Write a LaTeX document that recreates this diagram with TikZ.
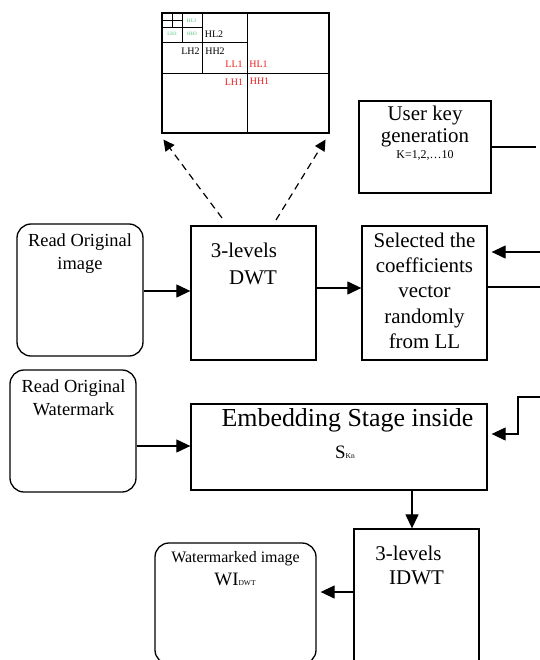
\documentclass[tikz,border=0pt]{standalone}
\usepackage{fontspec}
\setmainfont{Liberation Serif}
\usetikzlibrary{arrows.meta,calc}

\definecolor{lvlthree}{RGB}{70,190,120}
\definecolor{lvlone}{RGB}{235,30,30}

\begin{document}
\begin{tikzpicture}[x=1bp,y=-1bp,
  box/.style={draw, line width=1.3bp, inner sep=0pt},
  rbox/.style={box, rounded corners=14bp},
  conn/.style={line width=1.2bp},
  arr/.style={conn, -{Triangle[length=14bp,width=13bp]}},
  darr/.style={line width=1.2bp, dash pattern=on 7bp off 5bp, -{Triangle[length=11bp,width=11bp]}},
  txt/.style={anchor=base, inner sep=0pt},
  big/.style={txt, font=\fontsize{21}{25}\selectfont},
  sub/.style={line width=1bp},
  band/.style={anchor=base, inner sep=0pt, font=\fontsize{10}{12}\selectfont},
  tiny/.style={anchor=center, inner sep=0pt, text=lvlthree, font=\fontsize{5}{6}\selectfont}
]
\useasboundingbox (0,0) rectangle (540,660);

% ---- sub-band layout of the 3-level transform ----
\node[box, line width=1.1bp, minimum width=167bp, minimum height=120bp] (wav) at (245.5,73) {};
\draw[sub] (247,13) -- (247,133);
\draw[sub] (162,74) -- (329,74);
\draw[sub] (162,43) -- (247,43);
\draw[sub] (202,13) -- (202,74);
\draw[sub] (162,28) -- (202,28);
\draw[sub] (182,13) -- (182,43);
\draw[sub, line width=0.6bp] (162,20.5) -- (182,20.5);
\draw[sub, line width=0.6bp] (172.5,13) -- (172.5,28);

\node[tiny] (hl3) at (191.5,21) {HL3};
\node[tiny] (lh3) at (172,34) {LH3};
\node[tiny] (hh3) at (192,34) {HH3};
\node[band] (hl2) at (214,37.7) {HL2};
\node[band] (lh2) at (190.5,54.3) {LH2};
\node[band] (hh2) at (215,54.3) {HH2};
\node[band, text=lvlone] (ll1) at (234,68) {LL1};
\node[band, text=lvlone] (hl1) at (258.5,67.3) {HL1};
\node[band, text=lvlone] (lh1) at (234,85.5) {LH1};
\node[band, text=lvlone] (hh1) at (259.5,84.5) {HH1};

% ---- blocks ----
\node[box, minimum width=132bp, minimum height=92bp] (key) at (425,147) {};
\node[big] (keya) at (425,121) {User key};
\node[big] (keyb) at (425,142.5) {generation};
\node[txt, font=\fontsize{12}{14}\selectfont] (keyc) at (425,158) {K=1,2,…10};

\node[rbox, minimum width=126bp, minimum height=132bp] (readimg) at (80,290) {};
\node[txt, font=\fontsize{18.5}{23}\selectfont] (ria) at (80,246) {Read Original};
\node[txt, font=\fontsize{18.5}{23}\selectfont] (rib) at (80,269) {image};

\node[box, minimum width=125bp, minimum height=134bp] (dwt) at (253.5,293) {};
\node[big] (dwta) at (244,257.5) {3-levels};
\node[big] (dwtb) at (253,284) {DWT};

\node[box, minimum width=125bp, minimum height=134bp] (sel) at (424.5,293) {};
\node[big] (sela) at (424.5,247) {Selected the};
\node[big] (selb) at (424.5,272) {coefficients};
\node[big] (selc) at (424.5,297.5) {vector};
\node[big] (seld) at (424.5,323) {randomly};
\node[big] (sele) at (424.5,348.5) {from LL};

\node[rbox, minimum width=126bp, minimum height=122bp] (readwm) at (73,431) {};
\node[txt, font=\fontsize{18.5}{23}\selectfont] (rwa) at (73.5,392.5) {Read Original};
\node[txt, font=\fontsize{18.5}{23}\selectfont] (rwb) at (73.5,415.5) {Watermark};

\node[box, minimum width=296bp, minimum height=86bp] (emb) at (339,447) {};
\node[txt, font=\fontsize{26}{30}\selectfont] (emba) at (347.5,426.5) {Embedding Stage inside};
\node[txt, font=\fontsize{19}{22}\selectfont] (embb) at (345,458.5) {S{\fontsize{7.5}{8}\selectfont Kn}};

\node[box, minimum width=125bp, minimum height=135bp] (idwt) at (416.5,596.5) {};
\node[big] (idwta) at (408.5,560) {3-levels};
\node[big] (idwtb) at (416.5,584.3) {IDWT};

\node[rbox, minimum width=161bp, minimum height=121bp] (wmimg) at (235.5,603.5) {};
\node[txt, font=\fontsize{16}{19}\selectfont] (wma) at (235.5,562.5) {Watermarked image};
\node[txt, font=\fontsize{19}{22}\selectfont] (wmb) at (235,585) {WI{\fontsize{7.5}{8}\selectfont DWT}};

% ---- connectors ----
\coordinate (d1) at (222,218);
\coordinate (d2) at (276,220);
\draw[darr] (d1) -- ([shift={(2,6)}]wav.south west);
\draw[darr] (d2) -- ([shift={(-4,6)}]wav.south east);

\coordinate (keyout) at (536,147);
\draw[conn] (key.east) -- (keyout);

\draw[arr] ([yshift=-1bp]readimg.east) -- ([yshift=-1bp]readimg.east -| dwt.west);
\draw[arr] ([yshift=5bp]dwt.east) -- ([yshift=5bp]sel.west);

\coordinate (selin) at (540,252);
\draw[arr, shorten >=4bp] (selin) -- (selin -| sel.east);
\coordinate (selout) at (540,287);
\draw[conn] (selout -| sel.east) -- (selout);

\draw[arr] ([yshift=-15bp]readwm.east) -- ([yshift=-15bp]readwm.east -| emb.west);

\coordinate (embin) at (540,397);
\coordinate (embbend) at (518,397);
\draw[arr, shorten >=4bp] (embin) -- (embbend) |- ([yshift=13bp]emb.east);

\draw[arr] ([xshift=-4.5bp]idwt.north |- emb.south) -- ([xshift=-4.5bp]idwt.north);
\draw[arr, shorten >=4bp] ([yshift=4.5bp]idwt.west) -- ([yshift=4.5bp]idwt.west -| wmimg.east);
\end{tikzpicture}
\end{document}
